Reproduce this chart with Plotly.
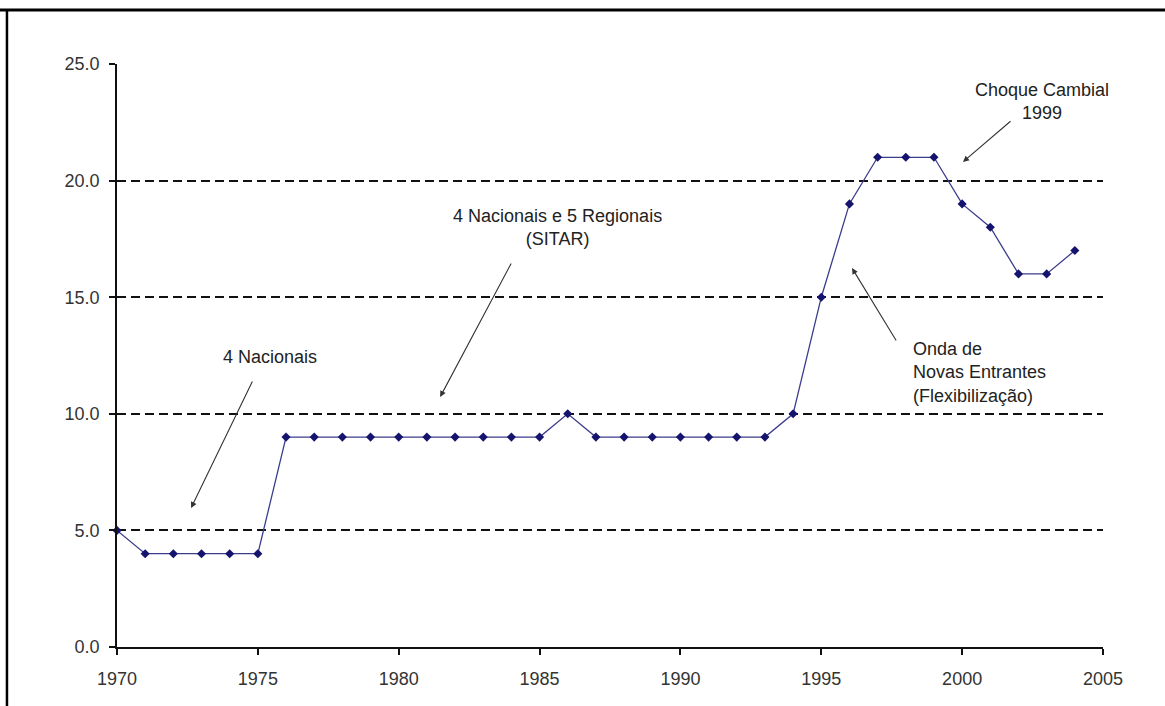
import plotly.graph_objects as go

# Number of carriers per year
years = list(range(1970, 2005))
carriers = [5, 4, 4, 4, 4, 4,
            9, 9, 9, 9, 9, 9, 9, 9, 9, 9,
            10,
            9, 9, 9, 9, 9, 9, 9,
            10, 15, 19, 21, 21, 21, 19, 18, 16, 16, 17]

x_ticks = [1970, 1975, 1980, 1985, 1990, 1995, 2000, 2005]
y_ticks = [0, 5, 10, 15, 20, 25]

# Text labels: (text, x, y, xanchor, align)
labels = [
    ("4 Nacionais", 1975.43, 12.44, "center", "center"),
    ("4 Nacionais e 5 Regionais<br>(SITAR)", 1985.65, 18.01, "center", "center"),
    ("Choque Cambial<br>1999", 2002.83, 23.41, "center", "center"),
    ("Onda de<br>Novas Entrantes<br>(Flexibilização)", 1998.18, 11.75, "left", "left"),
]

# Pointer arrows: (tail_x, tail_y, head_x, head_y)
arrows = [
    (1974.83, 11.45, 1972.63, 5.96),
    (1984.02, 16.51, 1981.47, 10.72),
    (2001.77, 22.60, 2000.03, 20.80),
    (1997.69, 13.08, 1996.09, 16.25),
]

FONT = "Liberation Sans, Arial, sans-serif"

fig = go.Figure()
fig.add_trace(go.Scatter(
    x=years, y=carriers, mode="lines+markers",
    line=dict(color="#3c3c8c", width=1.3),
    marker=dict(symbol="diamond", size=7, color="#14146e"),
    cliponaxis=False, showlegend=False, hoverinfo="x+y",
))

annotations = []
for text, x, y, xa, al in labels:
    annotations.append(dict(
        text=text, x=x, y=y, xref="x", yref="y", showarrow=False,
        xanchor=xa, yanchor="middle", align=al,
        font=dict(family=FONT, size=18, color="#222222"),
    ))
for tx, ty, hx, hy in arrows:
    annotations.append(dict(
        text="", x=hx, y=hy, xref="x", yref="y",
        ax=tx, ay=ty, axref="x", ayref="y",
        showarrow=True, arrowhead=2, arrowsize=1.1, arrowwidth=1.1,
        arrowcolor="#333333", standoff=0,
    ))

# Page frame (left and top rules)
shapes = [
    dict(type="line", xref="paper", yref="paper", x0=-0.1116, x1=-0.1116,
         y0=1.0926, y1=-0.2, line=dict(color="black", width=2.5)),
    dict(type="line", xref="paper", yref="paper", x0=-0.2, x1=1.2,
         y0=1.0926, y1=1.0926, line=dict(color="black", width=3)),
]

fig.update_layout(
    width=1165, height=706,
    margin=dict(l=117, r=62, t=64, b=59),
    paper_bgcolor="white", plot_bgcolor="white",
    font=dict(family=FONT, size=18, color="#333333"),
    annotations=annotations, shapes=shapes,
    xaxis=dict(
        range=[1970, 2005], tickvals=x_ticks, showgrid=False, zeroline=False,
        showline=True, linecolor="#111111", linewidth=1.5,
        ticks="outside", ticklen=6, tickwidth=1.5, tickcolor="#111111",
        ticklabelstandoff=9,
        tickfont=dict(family=FONT, size=18, color="#333333"),
    ),
    yaxis=dict(
        range=[0, 25], tickvals=y_ticks, tickformat=".1f",
        showgrid=True, gridcolor="#111111", gridwidth=1.5, griddash="9px,5px",
        zeroline=False, showline=True, linecolor="#111111", linewidth=1.5,
        ticks="outside", ticklen=6, tickwidth=1.5, tickcolor="#111111",
        ticklabelstandoff=6,
        tickfont=dict(family=FONT, size=18, color="#333333"),
    ),
)

fig.write_html("out.html")
